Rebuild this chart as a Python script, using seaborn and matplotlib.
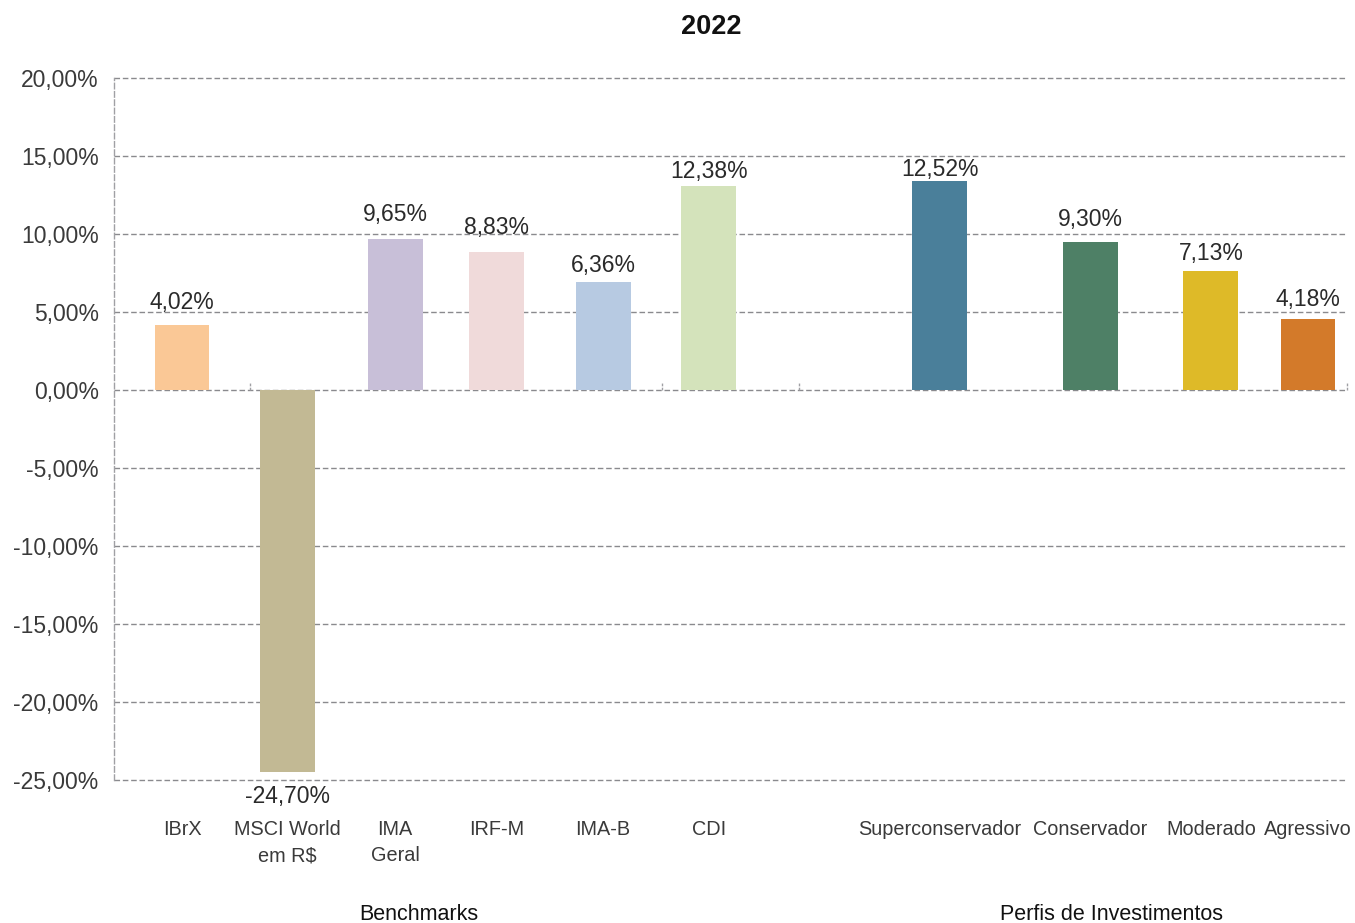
import matplotlib
matplotlib.use("Agg")
import matplotlib.pyplot as plt
import seaborn as sns
import pandas as pd
import numpy as np

# ---- data ----
categories = ["IBrX", "MSCI World\nem R$", "IMA\nGeral", "IRF-M", "IMA-B", "CDI",
              "Superconservador", "Conservador", "Moderado", "Agressivo"]
bar_values = [4.17, -24.50, 9.68, 8.85, 6.92, 13.08, 13.40, 9.49, 7.63, 4.55]
label_values = [4.02, -24.70, 9.65, 8.83, 6.36, 12.38, 12.52, 9.30, 7.13, 4.18]
groups = ["Benchmarks", "Perfis de Investimentos"]
title = "2022"
yticks = [20, 15, 10, 5, 0, -5, -10, -15, -20, -25]
ytick_labels = ["20,00%", "15,00%", "10,00%", "5,00%", "0,00%", "-5,00%",
                "-10,00%", "-15,00%", "-20,00%", "-25,00%"]

# ---- layout / style ----
slots = [0.0, 1.0, 2.02, 2.98, 3.99, 4.99, 7.18, 8.61, 9.75, 10.67]
colors = ["#FAC896", "#C2B994", "#C8BFD8", "#F0DADA", "#B7CAE2", "#D4E3BB",
          "#4A7F9A", "#4E8066", "#DEBA28", "#D37A2A"]
group_centers = [2.24, 8.81]
boundaries = [0.645, 4.55, 5.85, 11.04]

sns.set_theme(style="white")
plt.rcParams["font.family"] = ["Liberation Sans", "DejaVu Sans"]

fig = plt.figure(figsize=(13.55, 9.23), dpi=100)
ax = fig.add_axes([114 / 1355, 1 - 780 / 923, (1347 - 114) / 1355, 702 / 923])

df = pd.DataFrame({"slot": slots, "value": bar_values, "name": categories})
sns.barplot(data=df, x="slot", y="value", hue="name", palette=colors,
            native_scale=True, dodge=False, legend=False, width=0.565,
            saturation=1, linewidth=0, ax=ax, zorder=3)

ax.set_xlim(-0.645, 11.04)
ax.set_ylim(-25, 20)
ax.set_yticks(yticks)
ax.set_yticklabels(ytick_labels, fontsize=16.5, color="#3a3a3a")
ax.set_xticks(slots)
ax.set_xticklabels(categories, fontsize=14.3, color="#3a3a3a", va="top",
                   linespacing=1.45)
ax.tick_params(axis="x", length=0, pad=29)
ax.tick_params(axis="y", length=0, pad=11)
ax.set_xlabel("")
ax.set_ylabel("")

for t in yticks:
    ax.axhline(t, color="#8a8a8e", lw=1.0, ls=(0, (4, 2)), zorder=1, clip_on=False)

for b in boundaries:
    ax.plot([b, b], [0, 0.45], color="#a0a0a4", lw=1.0, ls=(0, (2, 1)),
            zorder=1, clip_on=False)

for s in ["top", "right", "bottom"]:
    ax.spines[s].set_visible(False)
ax.spines["left"].set_color("#a0a0a4")
ax.spines["left"].set_linestyle((0, (4, 2)))
ax.spines["left"].set_linewidth(1.0)

# value labels
for p, v in zip(ax.patches, label_values):
    cx = p.get_x() + p.get_width() / 2
    lab = f"{v:.2f}".replace(".", ",") + "%"
    off = 18 if v >= 0 else -15
    ax.annotate(lab, (cx, v), xytext=(0, off), textcoords="offset points",
                ha="center", va="center", fontsize=16.5, color="#2a2a2a")

# group labels
for gx, g in zip(group_centers, groups):
    ax.text(gx, -(914 - 780) / 702, g, transform=ax.get_xaxis_transform(),
            ha="center", va="center", fontsize=15.5, color="#111111")

fig.text(711 / 1355, 1 - 27 / 923, title, ha="center",
         va="center", fontsize=19.5, fontweight="bold", color="#111111")

fig.savefig("out.png", dpi=100, facecolor="white")
